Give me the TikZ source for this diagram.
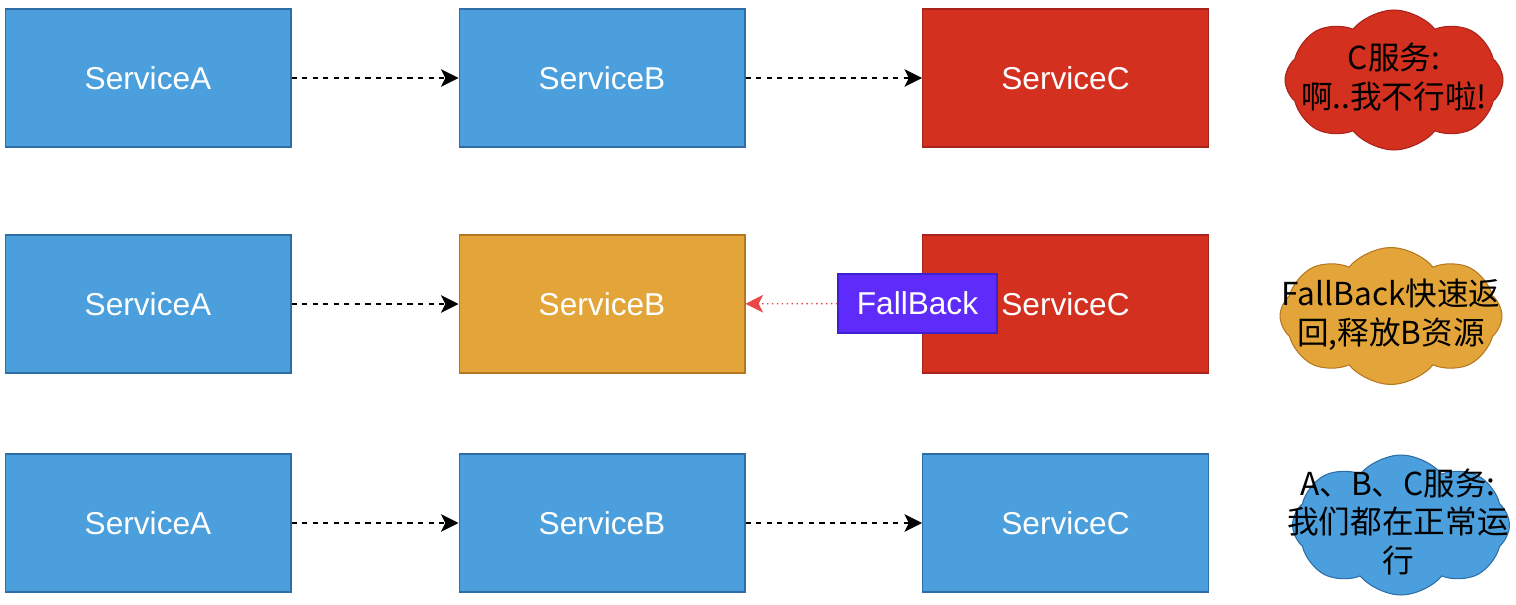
\documentclass[tikz,border=0pt]{standalone}
\usepackage{fontspec}
\setmainfont{Liberation Sans}
\newfontfamily\cjk{Noto Sans CJK SC}
\usetikzlibrary{arrows.meta,shapes.symbols}
\definecolor{svcblue}{HTML}{4A9FDC}
\definecolor{svcblueline}{HTML}{2F6DA6}
\definecolor{svcred}{HTML}{D3301F}
\definecolor{svcredline}{HTML}{A8231A}
\definecolor{svcorange}{HTML}{E3A53A}
\definecolor{svcorangeline}{HTML}{B5771F}
\definecolor{fbpurple}{HTML}{5E2BFB}
\definecolor{fbline}{HTML}{3A22D0}
\definecolor{fbarrow}{HTML}{E84848}
\begin{document}
\begin{tikzpicture}[x=0.02cm, y=-0.02cm,
    svc/.style={draw, line width=0.6pt, minimum width=5.72cm, minimum height=2.76cm,
        text=white, font=\fontsize{18}{21}\selectfont},
    callarrow/.style={-{Stealth[length=10pt,width=10pt,inset=2.5pt]}, dashed, thick},
    bubble/.style={cloud, cloud puffs=8, cloud puff arc=100, aspect=1.6, draw, line width=0.6pt},
    bubbletext/.style={align=center, font=\fontsize{18}{22}\selectfont\cjk}]
    \useasboundingbox (0, 0) rectangle (1516, 605);
    % normal call chain, C is down
    \node[svc, fill=svcblue, draw=svcblueline] (a1) at (148, 78) {ServiceA};
    \node[svc, fill=svcblue, draw=svcblueline] (b1) at (602, 78) {ServiceB};
    \node[svc, fill=svcred, draw=svcredline] (c1) at (1065.5, 78) {ServiceC};
    \draw[callarrow] (a1) -- (b1);
    \draw[callarrow] (b1) -- (c1);
    \node[bubble, fill=svcred, draw=svcredline, minimum width=4.36cm, minimum height=2.8cm] (cloud1) at (1394, 80) {};
    \node[bubbletext] (say1) at (1394, 77) {C服务:\\啊..我不行啦!};
    % fallback
    \node[svc, fill=svcblue, draw=svcblueline] (a2) at (148, 304) {ServiceA};
    \node[svc, fill=svcorange, draw=svcorangeline] (b2) at (602, 304) {ServiceB};
    \node[svc, fill=svcred, draw=svcredline] (c2) at (1065.5, 304) {ServiceC};
    \node[draw=fbline, fill=fbpurple, line width=0.8pt, minimum width=3.18cm, minimum height=1.18cm,
        text=white, font=\fontsize{18}{21}\selectfont] (fb) at (917.5, 303.5) {FallBack};
    \draw[callarrow] (a2) -- (b2);
    \draw[-{Stealth[length=10pt,width=10pt,inset=2.5pt]}, dotted, thick, fbarrow] (fb) -- (b2);
    \node[bubble, fill=svcorange, draw=svcorangeline, minimum width=4.44cm, minimum height=2.74cm] (cloud2) at (1391, 316) {};
    \node[bubbletext] (say2) at (1391, 315) {FallBack快速返\\回,释放B资源};
    % all running
    \node[svc, fill=svcblue, draw=svcblueline] (a3) at (148, 523) {ServiceA};
    \node[svc, fill=svcblue, draw=svcblueline] (b3) at (602, 523) {ServiceB};
    \node[svc, fill=svcblue, draw=svcblueline] (c3) at (1065.5, 523) {ServiceC};
    \draw[callarrow] (a3) -- (b3);
    \draw[callarrow] (b3) -- (c3);
    \node[bubble, fill=svcblue, draw=svcblueline, minimum width=4.34cm, minimum height=2.8cm] (cloud3) at (1401, 525) {};
    \node[bubbletext] (say3) at (1398, 522) {A、B、C服务:\\我们都在正常运\\行};
\end{tikzpicture}
\end{document}
